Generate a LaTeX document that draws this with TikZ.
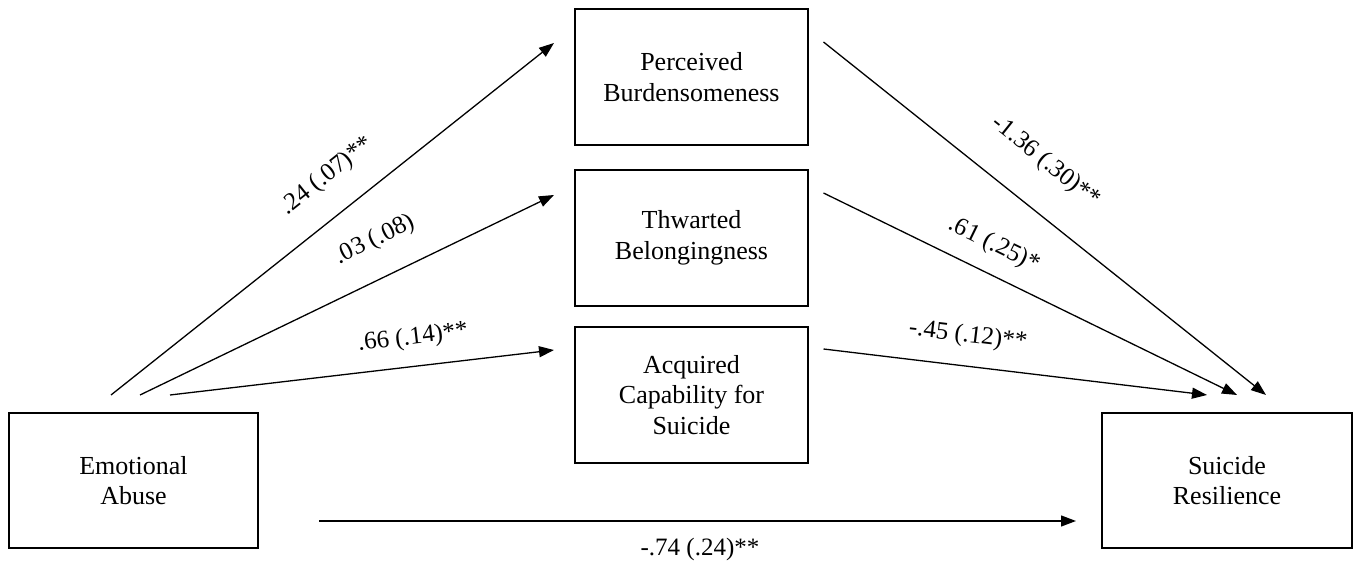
\documentclass[tikz,border=0pt]{standalone}
\usepackage{fontspec}
\setmainfont{Liberation Serif}
\usetikzlibrary{arrows.meta}
\tikzset{
  boxnode/.style={draw, line width=1.3pt, align=center, inner sep=0pt,
    font=\fontsize{26}{30.5}\selectfont},
  lab/.style={inner sep=0pt, font=\fontsize{25}{30}\selectfont},
  conn/.style={line width=1.3pt, -{Triangle[length=15pt,width=11pt]}}
}
\begin{document}
\begin{tikzpicture}[x=1pt,y=1pt]
\useasboundingbox (0,0) rectangle (1358,564);
% boxes
\node[boxnode, minimum width=249pt, minimum height=135pt] (ea) at (133.5,83.5) {Emotional\\Abuse};
\node[boxnode, minimum width=233pt, minimum height=136pt] (pb) at (691.5,487) {Perceived\\Burdensomeness};
\node[boxnode, minimum width=233pt, minimum height=136pt] (tb) at (691.5,326) {Thwarted\\Belongingness};
\node[boxnode, minimum width=233pt, minimum height=136pt] (ac) at (691.5,169) {Acquired\\Capability for\\Suicide};
\node[boxnode, minimum width=250pt, minimum height=135pt] (sr) at (1227,83.5) {Suicide\\Resilience};
% arrow end points
\coordinate (a1s) at (111,169);   \coordinate (a1e) at (554,521);
\coordinate (a2s) at (140,169);   \coordinate (a2e) at (554,369);
\coordinate (a3s) at (170,169);   \coordinate (a3e) at (554,214);
\coordinate (b1s) at (823.5,522); \coordinate (b1e) at (1266,169);
\coordinate (b2s) at (823.5,371); \coordinate (b2e) at (1237,169);
\coordinate (b3s) at (823.5,215); \coordinate (b3e) at (1207,169);
\coordinate (cs) at (319,43);     \coordinate (ce) at (1076,43);
% connectors
\draw[conn] (a1s) -- (a1e);
\draw[conn] (a2s) -- (a2e);
\draw[conn] (a3s) -- (a3e);
\draw[conn] (b1s) -- (b1e);
\draw[conn] (b2s) -- (b2e);
\draw[conn] (b3s) -- (b3e);
\draw[conn] (cs) -- (ce);
% labels
\node[lab, rotate=38.5] (l1) at (327,388) {.24 (.07)**};
\node[lab, rotate=26] (l2) at (375,324) {.03 (.08)};
\node[lab, rotate=6.7] (l3) at (413,226) {.66 (.14)**};
\node[lab, rotate=-38.6] (l4) at (1046,402) {-1.36 (.30)**};
\node[lab, rotate=-26] (l5) at (994,319) {.61 (.25)*};
\node[lab, rotate=-6.8] (l6) at (968,228) {-.45 (.12)**};
\node[lab] (l7) at (700,15) {-.74 (.24)**};
\end{tikzpicture}
\end{document}
